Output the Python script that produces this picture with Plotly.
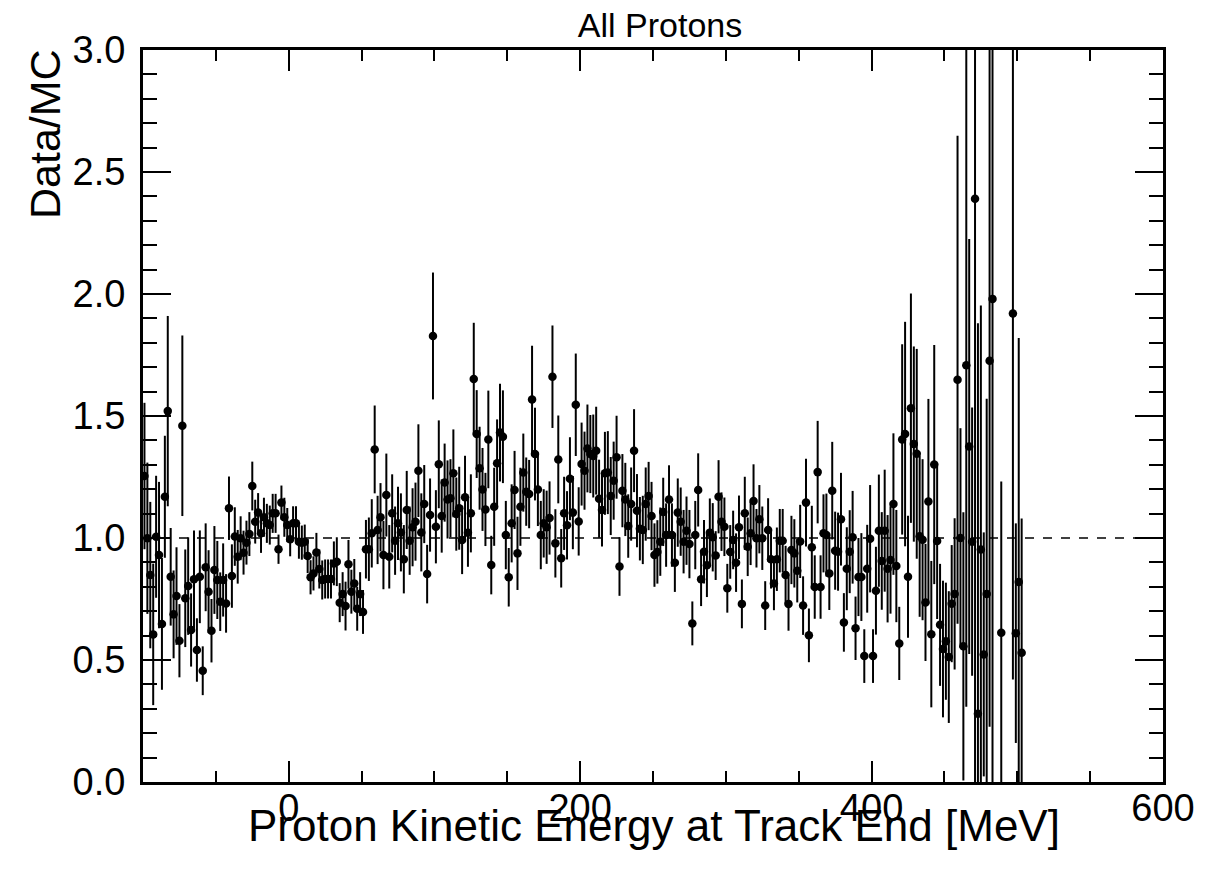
import plotly.graph_objects as go

# ---- data: bin centres [MeV], Data/MC ratio, statistical error ----
energy_mev = [
    -99, -97, -95, -93, -91, -89, -87, -85, -83, -81, -79, -77, -75, -73, -71, -69, -67,
    -65, -63, -61, -59, -57, -55, -53, -51, -49, -47, -45, -43, -41, -39, -37, -35,
    -33, -31, -29, -27, -25, -23, -21, -19, -17, -15, -13, -11, -9, -7, -5, -3, -1,
    1, 3, 5, 7, 9, 11, 13, 15, 17, 19, 21, 23, 25, 27, 29, 31,
    33, 35, 37, 39, 41, 43, 45, 47, 49, 51, 53, 55, 57, 59, 61, 63, 65,
    67, 69, 71, 73, 75, 77, 79, 81, 83, 85, 87, 89, 91, 93, 95, 97,
    99, 101, 103, 105, 107, 109, 111, 113, 115, 117, 119, 121, 123, 125, 127, 129,
    131, 133, 135, 137, 139, 141, 143, 145, 147, 149, 151, 153, 155, 157, 159, 161,
    163, 165, 167, 169, 171, 173, 175, 177, 179, 181, 183, 185, 187, 189, 191, 193, 195,
    197, 199, 201, 203, 205, 207, 209, 211, 213, 215, 217, 219, 221, 223, 225, 227,
    229, 231, 233, 235, 237, 239, 241, 243, 245, 247, 249, 251, 253, 255, 257, 259,
    261, 263, 265, 267, 269, 271, 273, 275, 277, 279, 281, 283, 285, 287, 289, 291,
    293, 295, 297, 299, 301, 303, 305, 307, 309, 311, 313, 315, 317, 319, 321, 323, 325,
    327, 329, 331, 333, 335, 337, 339, 341, 343, 345, 347, 349, 351, 353, 355, 357,
    359, 361, 363, 365, 367, 369, 371, 373, 375, 377, 379, 381, 383, 385, 387, 389,
    391, 393, 395, 397, 399, 401, 403, 405, 407, 409, 411, 413, 415, 417, 419,
    421, 423, 425, 427, 429, 431, 433, 435, 437, 439, 441, 443, 445, 447, 449, 451,
    453, 455, 457, 459, 461, 463, 465, 467, 469, 471, 473, 475, 477, 479, 481, 483,
    489, 497, 499, 501, 503,
]

ratio = [
    1.254, 0.999, 0.848, 0.605, 1.005, 0.930, 0.648, 1.169, 1.520, 0.841, 0.687, 0.762, 0.579,
    1.460, 0.753, 0.803, 0.623, 0.831, 0.541, 0.841, 0.456, 0.880, 0.780, 0.620, 0.869, 0.828,
    0.739, 0.828, 0.732, 1.122, 0.844, 1.006, 0.923,
    0.999, 0.940, 0.981, 1.016, 1.213, 1.067, 1.104, 1.019, 1.085, 1.060, 1.053, 1.101, 1.101,
    0.954, 1.145, 1.085, 1.053, 0.995, 1.060, 1.060, 0.985, 0.981, 0.985, 0.926, 0.839, 0.855,
    0.941, 0.873, 0.828, 0.832, 0.832, 0.832, 0.896,
    0.903, 0.735, 0.770, 0.721, 0.892, 0.780, 0.814, 0.710, 0.770, 0.697, 0.954, 0.954, 1.019,
    1.363, 1.033, 1.085, 0.930, 1.176, 0.923, 1.101, 0.989, 1.060, 1.023, 0.913, 1.115, 0.989,
    1.044, 1.067, 1.276, 1.023, 1.139, 0.852, 1.094,
    1.828, 1.046, 1.302, 1.090, 1.227, 1.158, 1.163, 1.265, 1.098, 1.122, 0.992, 1.167, 1.022,
    1.101, 1.652, 1.426, 1.286, 1.199, 1.117, 1.404, 0.889, 1.128, 1.306, 1.432, 1.415, 1.012,
    0.839, 1.060, 1.197, 0.937, 1.128, 1.268,
    1.190, 1.180, 1.568, 1.344, 1.199, 1.012, 1.060, 1.044, 1.082, 1.661, 0.978, 1.322, 0.917,
    1.101, 1.052, 1.243, 1.104, 1.546, 1.068, 1.303, 1.276, 1.367, 1.344, 1.336, 1.358, 1.161,
    1.115, 1.265, 1.268, 1.172, 1.235, 1.331, 0.883,
    1.194, 1.158, 1.049, 1.139, 1.358, 1.112, 1.038, 1.033, 1.139, 1.172, 1.090, 0.930, 0.943,
    0.985, 1.107, 1.012, 1.158, 1.012, 0.899, 1.104, 1.067, 0.985, 1.030, 0.975, 0.650, 1.012,
    1.197, 0.831, 0.944, 0.888, 1.022, 1.003,
    0.928, 1.169, 1.067, 1.046, 0.794, 0.943, 0.992, 0.899, 1.044, 0.730, 1.101, 0.964, 1.019,
    1.152, 0.999, 1.077, 0.999, 0.723, 1.033, 0.913, 0.814, 0.913, 0.989, 0.989, 0.848, 0.730,
    0.951, 0.937, 0.866, 0.986, 0.723, 1.145, 0.601,
    0.962, 0.799, 1.270, 0.799, 1.019, 1.012, 0.855, 1.194, 0.948, 0.944, 1.077, 0.654, 0.874,
    0.944, 1.003, 0.630, 0.840, 0.840, 0.516, 0.874, 0.997, 0.516, 0.784, 1.030, 0.906, 1.030,
    0.874, 0.910, 1.139, 0.885, 0.568,
    1.404, 1.426, 0.841, 1.532, 1.385, 1.345, 1.007, 0.993, 0.736, 1.150, 0.606, 1.301, 0.988,
    0.644, 0.545, 0.577, 0.512, 0.731, 0.771, 1.649, 1.000, 0.556, 1.708, 1.375, 0.985, 2.390,
    0.280, 0.953, 0.523, 0.771, 1.726, 1.980,
    0.612, 1.920, 0.610, 0.820, 0.530,
]

ratio_err = [
    0.30, 0.31, 0.30, 0.29, 0.25, 0.30, 0.27, 0.25, 0.39, 0.20, 0.18, 0.20, 0.15, 0.37, 0.20,
    0.20, 0.15, 0.20, 0.13, 0.19, 0.10, 0.18, 0.17, 0.13, 0.18, 0.16, 0.12, 0.15, 0.12, 0.13,
    0.13, 0.12, 0.11,
    0.09, 0.09, 0.09, 0.09, 0.10, 0.09, 0.08, 0.08, 0.08, 0.08, 0.08, 0.08, 0.08, 0.06, 0.07,
    0.08, 0.07, 0.07, 0.07, 0.07, 0.07, 0.07, 0.07, 0.07, 0.07, 0.07, 0.08, 0.08, 0.08, 0.08,
    0.08, 0.08, 0.09,
    0.10, 0.08, 0.09, 0.10, 0.10, 0.09, 0.10, 0.09, 0.09, 0.09, 0.12, 0.13, 0.14, 0.18, 0.14,
    0.14, 0.14, 0.17, 0.13, 0.16, 0.14, 0.15, 0.16, 0.14, 0.16, 0.14, 0.16, 0.16, 0.19, 0.16,
    0.16, 0.12, 0.15,
    0.26, 0.15, 0.18, 0.15, 0.16, 0.16, 0.16, 0.18, 0.15, 0.17, 0.14, 0.17, 0.14, 0.16, 0.23,
    0.18, 0.17, 0.17, 0.15, 0.20, 0.12, 0.16, 0.18, 0.20, 0.19, 0.14, 0.12, 0.16, 0.16, 0.15,
    0.16, 0.16,
    0.14, 0.14, 0.22, 0.19, 0.15, 0.14, 0.14, 0.15, 0.15, 0.21, 0.14, 0.18, 0.12, 0.15, 0.14,
    0.17, 0.15, 0.21, 0.14, 0.17, 0.16, 0.18, 0.16, 0.17, 0.18, 0.16, 0.15, 0.17, 0.17, 0.16,
    0.16, 0.17, 0.12,
    0.15, 0.15, 0.13, 0.15, 0.17, 0.15, 0.13, 0.14, 0.15, 0.14, 0.14, 0.13, 0.13, 0.14, 0.14,
    0.13, 0.14, 0.13, 0.12, 0.14, 0.14, 0.13, 0.14, 0.14, 0.09, 0.14, 0.15, 0.11, 0.13, 0.13,
    0.14, 0.14,
    0.10, 0.15, 0.12, 0.12, 0.10, 0.11, 0.12, 0.12, 0.13, 0.10, 0.15, 0.12, 0.13, 0.15, 0.12,
    0.14, 0.13, 0.10, 0.13, 0.12, 0.11, 0.13, 0.13, 0.13, 0.12, 0.11, 0.14, 0.14, 0.13, 0.15,
    0.12, 0.18, 0.11,
    0.17, 0.13, 0.21, 0.13, 0.16, 0.17, 0.15, 0.20, 0.16, 0.16, 0.19, 0.12, 0.17, 0.17, 0.19,
    0.13, 0.16, 0.18, 0.11, 0.18, 0.22, 0.11, 0.18, 0.23, 0.20, 0.25, 0.22, 0.22, 0.29, 0.23,
    0.15,
    0.39, 0.46, 0.25, 0.47, 0.40, 0.43, 0.33, 0.33, 0.24, 0.42, 0.30, 0.49, 0.32, 0.25, 0.28,
    0.24, 0.27, 0.24, 0.31, 1.00, 0.45, 0.55, 1.40, 0.85, 0.55, 2.40, 1.60, 1.00, 0.50, 0.80,
    1.50, 2.00,
    0.62, 1.50, 0.45, 1.00, 0.55,
]

x_range = [-100, 600]
y_range = [0.0, 3.0]
x_tick_values = [0, 200, 400, 600]
y_tick_values = [0.0, 0.5, 1.0, 1.5, 2.0, 2.5, 3.0]
reference_ratio = 1.0

title_text = "All Protons"
x_title = "Proton Kinetic Energy at Track End [MeV]"
y_title = "Data/MC"

assert len(energy_mev) == len(ratio) == len(ratio_err)

FONT = "Liberation Sans, Arial, Helvetica, sans-serif"

fig = go.Figure()

fig.add_trace(go.Scatter(
    x=energy_mev,
    y=ratio,
    mode="markers",
    marker=dict(color="black", size=8.5),
    error_y=dict(type="data", array=ratio_err, visible=True,
                 color="black", thickness=2, width=0),
    showlegend=False,
    cliponaxis=True,
))

fig.add_shape(type="line", xref="x", yref="y",
              x0=x_range[0], x1=x_range[1], y0=reference_ratio, y1=reference_ratio,
              line=dict(color="black", width=1.5, dash="dash"), layer="below")

axis_common = dict(
    showgrid=False, zeroline=False,
    showline=True, linecolor="black", linewidth=3, mirror="ticks",
    ticks="inside", tickcolor="black", tickwidth=2,
    tickfont=dict(family=FONT, size=38, color="black"),
)

fig.update_xaxes(
    range=x_range, tickvals=x_tick_values, ticktext=[str(v) for v in x_tick_values],
    ticklen=21, ticklabelstandoff=-10,
    minor=dict(dtick=50, tick0=0, ticklen=11, ticks="inside", tickcolor="black", tickwidth=2),
    **axis_common,
)
fig.update_yaxes(
    range=y_range, tickvals=y_tick_values, ticktext=[f"{v:.1f}" for v in y_tick_values],
    ticklen=28, ticklabelstandoff=7,
    minor=dict(dtick=0.1, tick0=0, ticklen=14, ticks="inside", tickcolor="black", tickwidth=2),
    **axis_common,
)

L, R, T, B = 143, 64, 50, 97
W, H = 1227, 879
pw, ph = W - L - R, H - T - B

fig.add_annotation(text=x_title, xref="paper", yref="paper",
                   x=(654 - L) / pw, y=(H - B - 825) / ph,
                   showarrow=False, xanchor="center", yanchor="middle",
                   font=dict(family=FONT, size=44, color="black"))
fig.add_annotation(text=y_title, xref="paper", yref="paper",
                   x=(45 - L) / pw, y=(H - B - 134) / ph, textangle=-90,
                   showarrow=False, xanchor="center", yanchor="middle",
                   font=dict(family=FONT, size=43, color="black"))

fig.update_layout(
    width=W, height=H,
    margin=dict(l=L, r=R, t=T, b=B),
    paper_bgcolor="white", plot_bgcolor="white",
    title=dict(text=title_text, x=660 / W, xanchor="center",
               y=1 - 25 / H, yanchor="middle", yref="container",
               font=dict(family=FONT, size=34, color="black")),
)

fig.write_html("out.html")
